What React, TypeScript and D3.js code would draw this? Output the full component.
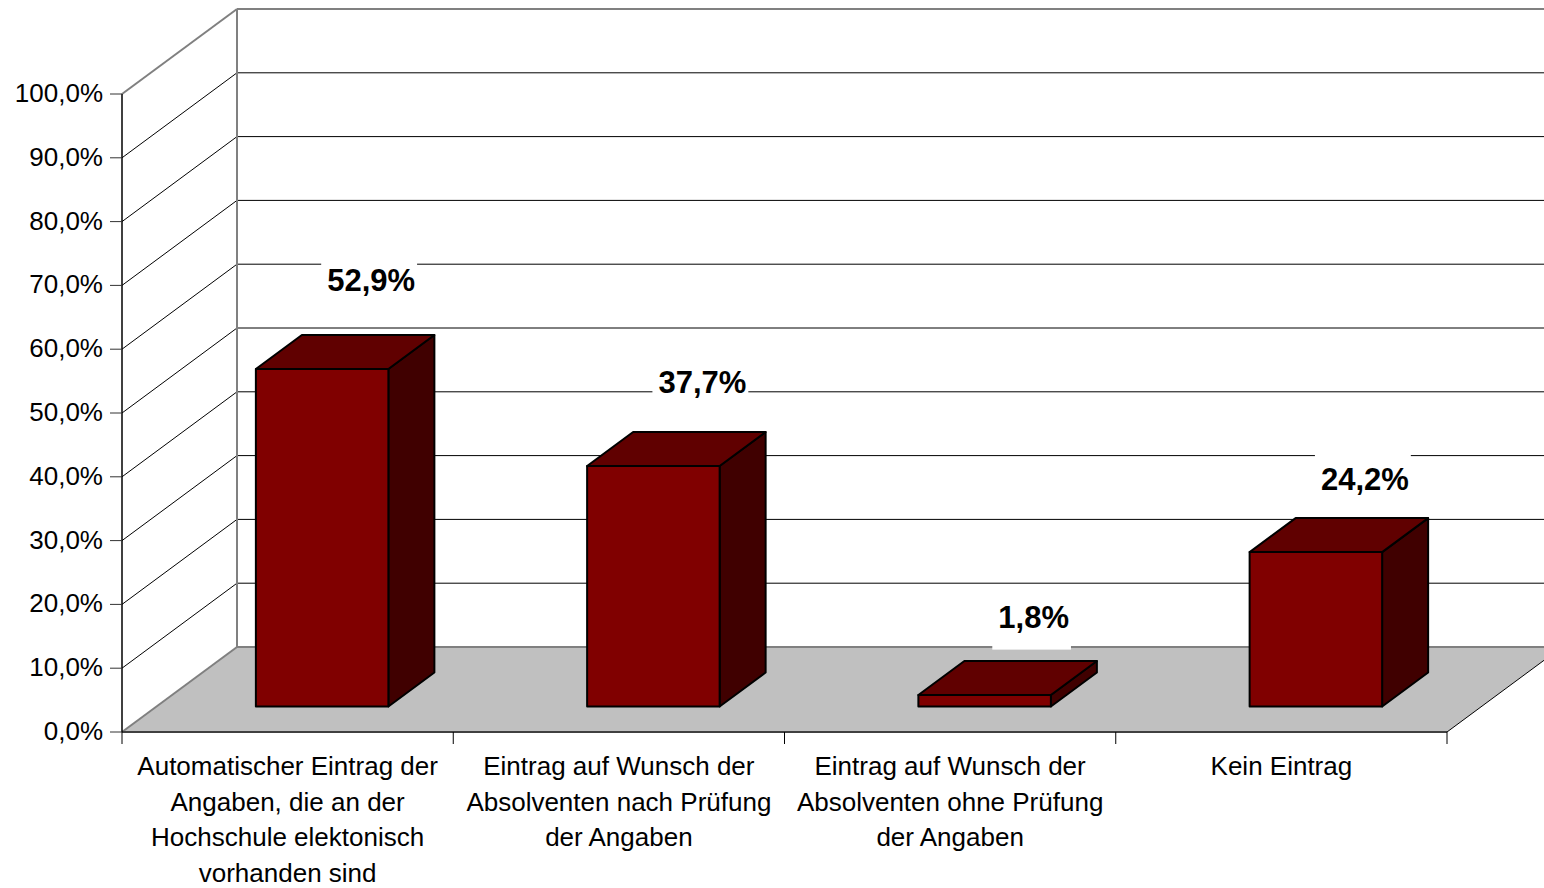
import React from 'react';
import * as d3 from 'd3';

const categories: string[][] = [
  ['Automatischer Eintrag der', 'Angaben, die an der', 'Hochschule elektonisch', 'vorhanden sind'],
  ['Eintrag auf Wunsch der', 'Absolventen nach Prüfung', 'der Angaben'],
  ['Eintrag auf Wunsch der', 'Absolventen ohne Prüfung', 'der Angaben'],
  ['Kein Eintrag'],
];
const values: number[] = [0.529, 0.377, 0.018, 0.242];
const yTicks: number[] = [0, 0.1, 0.2, 0.3, 0.4, 0.5, 0.6, 0.7, 0.8, 0.9, 1.0];

const W = 1544;
const H = 888;
const X0 = 122;
const X1 = 1447;
const Y0 = 732;
const Y1 = 94;
const DX = 115;
const DY = 85;
const D0 = 0.3;
const D1 = 0.7;
const FONT = 'Arial, "Liberation Sans", sans-serif';

const de = d3.formatLocale({ decimal: ',', thousands: '.', grouping: [3], currency: ['', ' €'] });
const fmt = de.format('.1%');

function measure(text: string, font: string): number {
  const c = document.createElement('canvas').getContext('2d');
  if (!c) return text.length * 17;
  c.font = font;
  return c.measureText(text).width;
}

export default function App() {
  const idx = d3.range(categories.length);
  const x = d3.scaleBand<number>().domain(idx).range([X0, X1]).paddingInner(0.6).paddingOuter(0.3);
  const slot = d3.scaleBand<number>().domain(idx).range([X0, X1]).padding(0);
  const y = d3.scaleLinear().domain([0, 1]).range([Y0, Y1]);
  const P = (px: number, py: number, d: number): [number, number] => [px + d * DX, py - d * DY];
  const pts = (arr: [number, number][]) => arr.map((p) => p.join(',')).join(' ');
  const line = (a: [number, number], b: [number, number], stroke: string, w: number, key: string) => (
    <line key={key} x1={a[0]} y1={a[1]} x2={b[0]} y2={b[1]} stroke={stroke} strokeWidth={w} />
  );
  const bw = x.bandwidth();
  const labelFont = `bold 31px ${FONT}`;

  return (
    <svg width={W} height={H} style={{ position: 'absolute', left: 0, top: 0, background: '#fff' }}>
      {/* floor */}
      <polygon points={pts([P(X0, Y0, 0), P(X0, Y0, 1), P(X1, Y0, 1), P(X1, Y0, 0)])} fill="#C0C0C0" />
      {/* side wall gridlines */}
      {yTicks.slice(1, -1).map((t) => line(P(X0, y(t), 0), P(X0, y(t), 1), '#000', 1, 's' + t))}
      {/* back wall gridlines */}
      {yTicks.slice(1, -1).map((t) => line(P(X0, y(t), 1), P(X1, y(t), 1), '#000', 1, 'b' + t))}
      {/* wall edges */}
      {line(P(X0, y(1), 0), P(X0, y(1), 1), '#808080', 2, 'topdiag')}
      {line(P(X0, y(1), 1), P(X1, y(1), 1), '#808080', 2, 'toptop')}
      {line(P(X0, y(1), 1), P(X0, Y0, 1), '#808080', 2, 'backleft')}
      {line(P(X0, Y0, 0), P(X0, Y0, 1), '#808080', 2, 'floorleft')}
      {line(P(X0, Y0, 1), P(X1, Y0, 1), '#808080', 2, 'floorback')}
      {line(P(X1, Y0, 0), P(X1, Y0, 1), '#000', 1, 'floorright')}
      {line([X0, Y0], [X1, Y0], '#404040', 2, 'floorfront')}
      {/* y axis */}
      {line([X0, y(1)], [X0, Y0], '#000', 1.5, 'yaxis')}
      {yTicks.map((t) => (
        <g key={'yt' + t}>
          <line x1={X0 - 12} x2={X0} y1={y(t)} y2={y(t)} stroke="#333" strokeWidth={1} />
          <text x={X0 - 19} y={y(t) + 8} textAnchor="end" fontFamily={FONT} fontSize={26} fill="#000">
            {fmt(t)}
          </text>
        </g>
      ))}
      {/* x ticks */}
      {[...idx.map((i) => slot(i) as number), X1].map((v, k) => (
        <line key={'xt' + k} x1={v} x2={v} y1={Y0} y2={Y0 + 12} stroke="#000" strokeWidth={1} />
      ))}
      {/* bars */}
      {values.map((v, i) => {
        const xa = x(i) as number;
        const xb = xa + bw;
        const yt = y(v);
        const yb = y(0);
        return (
          <g key={'bar' + i} stroke="#000" strokeWidth={2} strokeLinejoin="round">
            <polygon points={pts([P(xb, yt, D0), P(xb, yt, D1), P(xb, yb, D1), P(xb, yb, D0)])} fill="#400000" />
            <polygon points={pts([P(xa, yt, D0), P(xa, yt, D1), P(xb, yt, D1), P(xb, yt, D0)])} fill="#600000" />
            <polygon points={pts([P(xa, yt, D0), P(xb, yt, D0), P(xb, yb, D0), P(xa, yb, D0)])} fill="#800000" />
          </g>
        );
      })}
      {/* value labels */}
      {values.map((v, i) => {
        const [cx, cy] = P((x(i) as number) + bw / 2, y(v), D1);
        const lx = cx + 3;
        const ly = cy - (44 - 5.3 * i);
        const txt = fmt(v);
        const tw = measure(txt, labelFont);
        return (
          <g key={'lab' + i}>
            <rect x={lx - tw / 2 - 6} y={ly - 40} width={tw + 8} height={62} fill="#fff" />
            <text x={lx} y={ly} textAnchor="middle" fontFamily={FONT} fontWeight="bold" fontSize={31} fill="#000">
              {txt}
            </text>
          </g>
        );
      })}
      {/* category labels */}
      {categories.map((lines, i) => {
        const cx = (slot(i) as number) + slot.bandwidth() / 2;
        return (
          <text key={'cat' + i} textAnchor="middle" fontFamily={FONT} fontSize={26} fill="#000">
            {lines.map((l, k) => (
              <tspan key={k} x={cx} y={775 + k * 35.5}>
                {l}
              </tspan>
            ))}
          </text>
        );
      })}
    </svg>
  );
}
